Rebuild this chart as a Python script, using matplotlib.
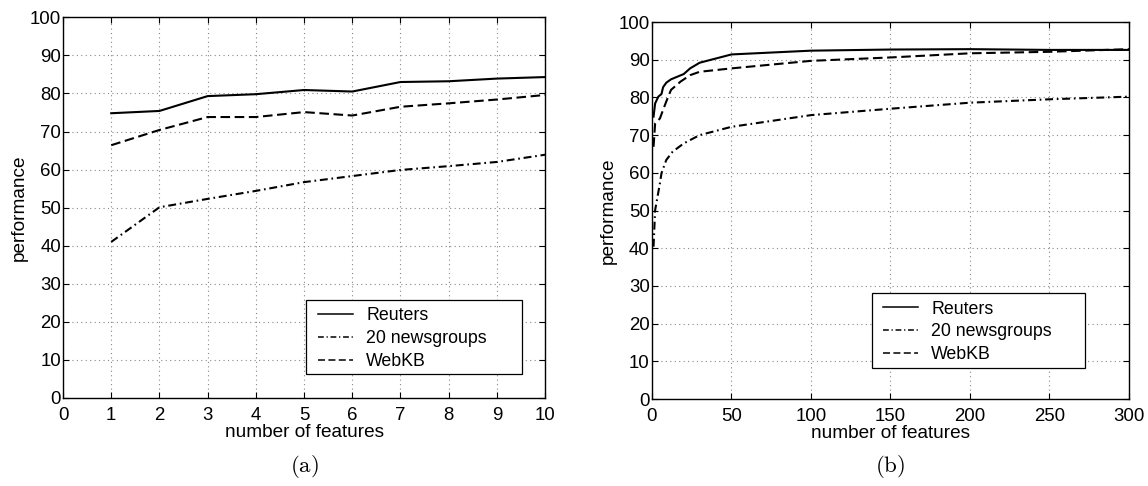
import matplotlib
matplotlib.use("Agg")
import matplotlib.pyplot as plt
from matplotlib.patches import Rectangle

plt.rcParams['font.family'] = ['Liberation Sans', 'DejaVu Sans']
plt.rcParams['mathtext.fontset'] = 'cm'

# Panel (a)
a_x = [1, 2, 3, 4, 5, 6, 7, 8, 9, 10]
a_reuters = [74.8, 75.4, 79.3, 79.8, 80.9, 80.5, 83.0, 83.2, 83.9, 84.3]
a_news = [41.0, 50.1, 52.3, 54.4, 56.7, 58.3, 59.9, 60.9, 62.0, 63.9]
a_webkb = [66.4, 70.4, 73.8, 73.8, 75.1, 74.2, 76.5, 77.4, 78.4, 79.6]

# Panel (b)
b_x_reuters = [1, 2, 4, 6, 7, 9, 12, 16, 20, 24, 30, 50, 100, 150, 200, 250, 300]
b_reuters = [74.9, 78.4, 80.2, 80.9, 82.7, 83.9, 84.8, 85.5, 86.2, 87.7, 89.2, 91.4, 92.4, 92.7, 92.8, 92.6, 92.6]
b_x_news = [1, 2, 5, 6, 9, 13, 20, 30, 50, 100, 150, 200, 250, 300]
b_news = [40.4, 50.1, 57.2, 59.9, 63.4, 65.6, 67.8, 70.0, 72.2, 75.3, 77.0, 78.6, 79.5, 80.2]
b_x_webkb = [1, 2, 5, 7, 9, 12, 18, 24, 30, 50, 100, 150, 200, 250, 300]
b_webkb = [66.9, 73.1, 74.4, 76.7, 78.9, 82.0, 84.2, 85.9, 86.8, 87.7, 89.7, 90.6, 91.7, 92.1, 92.8]

labels = ['Reuters', '20 newsgroups', 'WebKB']
yticks = list(range(0, 101, 10))
a_xticks = list(range(0, 11))
b_xticks = list(range(0, 301, 50))

fig = plt.figure(figsize=(11.48, 4.86), dpi=100)
ax1 = fig.add_axes([0.0549, 0.1811, 0.4199, 0.7833])
ax2 = fig.add_axes([0.5679, 0.1790, 0.4155, 0.7757])

lw = 1.5
styles = [dict(ls='-'), dict(ls=(0, (3.8, 1.8, 0.8, 1.8))), dict(ls=(0, (4.6, 2.2)))]


def style_axes(ax, xticks, xlim):
    ax.set_xlim(*xlim)
    ax.set_ylim(0, 100)
    ax.set_xticks(xticks)
    ax.set_yticks(yticks)
    ax.grid(True, color='#888888', ls=(0, (1, 3)), lw=0.8)
    ax.tick_params(direction='in', top=True, right=True, length=4, width=0.8,
                   labelsize=13.4, colors='black')
    ax.tick_params(axis='x', pad=6.5)
    ax.tick_params(axis='y', pad=1.5)
    for s in ax.spines.values():
        s.set_linewidth(1.0)
    ax.set_xlabel('number of features', fontsize=13.7, labelpad=0)
    ax.set_ylabel('performance', fontsize=13.7, labelpad=1)


# legend box (axes coords): x0, y0, x1, y1, handle start x, rows centre y
panels = [
    (ax1, [(a_x, a_reuters), (a_x, a_news), (a_x, a_webkb)], a_xticks, (0, 10),
     (0.504, 0.063, 0.952, 0.257), 0.529, 0.156),
    (ax2, [(b_x_reuters, b_reuters), (b_x_news, b_news), (b_x_webkb, b_webkb)], b_xticks, (0, 300),
     (0.461, 0.082, 0.908, 0.280), 0.485, 0.178),
]

for ax, data, xticks, xlim, box, hx, cy in panels:
    for (xs, ys), lab, st in zip(data, labels, styles):
        ax.plot(xs, ys, color='black', lw=lw, label=lab, **st)
    style_axes(ax, xticks, xlim)
    x0, y0, x1, y1 = box
    rect = Rectangle((x0, y0), x1 - x0, y1 - y0, transform=ax.transAxes,
                     facecolor='white', edgecolor='black', lw=0.9, zorder=4.5)
    ax.add_patch(rect)
    leg = ax.legend(loc='center left', bbox_to_anchor=(hx, cy),
                    fontsize=12.8, frameon=False,
                    handlelength=1.95, borderpad=0, labelspacing=0.33,
                    handletextpad=0.75, borderaxespad=0)
    leg.set_zorder(5)
    for ln in leg.get_lines():
        ln.set_linewidth(1.1)

fig.text(0.2648, 0.041, r'$\mathrm{(a)}$', fontsize=16.5, ha='center', va='center')
fig.text(0.7753, 0.041, r'$\mathrm{(b)}$', fontsize=16.5, ha='center', va='center')

fig.savefig('out.png', dpi=100)
